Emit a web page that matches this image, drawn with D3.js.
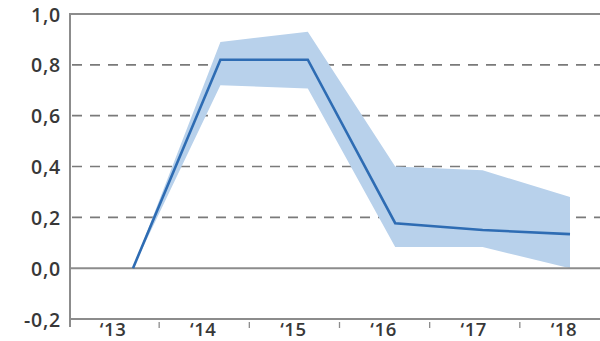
<!DOCTYPE html>
<html>
<head>
<meta charset="utf-8">
<script src="https://cdn.jsdelivr.net/npm/d3@7/dist/d3.min.js"></script>
<style>
  html, body { margin: 0; padding: 0; background: #fff; }
  svg { display: block; }
  text { font-family: "Open Sans", "Noto Sans", sans-serif; fill: #383838; font-weight: 600; }
</style>
</head>
<body>
<svg id="chart" width="600" height="341"></svg>
<script>
// Years on the horizontal axis
const years = ["13", "14", "15", "16", "17", "18"];
// Central estimate
const central = [0.0, 0.82, 0.82, 0.177, 0.15, 0.134];
// Uncertainty range
const upper = [0.0, 0.89, 0.93, 0.40, 0.385, 0.28];
const lower = [0.0, 0.72, 0.707, 0.083, 0.083, 0.0];
// Vertical ticks
const yTicks = [-0.2, 0.0, 0.2, 0.4, 0.6, 0.8, 1.0];
const gridTicks = [0.2, 0.4, 0.6, 0.8];

(function draw() {
  const svg = d3.select("#chart");
  const W = 600;
  const plotLeft = 70, plotTop = 14, plotBottom = 319;

  const y = d3.scaleLinear().domain([-0.2, 1.0]).range([plotBottom, plotTop]);
  // Axis bands for the year labels
  const xBand = d3.scaleBand().domain(years).range([69, 610]).paddingInner(0).paddingOuter(0);
  // Observation positions within the years
  const xPt = d3.scalePoint().domain(years).range([133, 570]);

  const fmt = v => d3.format(".1f")(v).replace(".", ",").replace("\u2212", "-");

  // Dashed grid lines
  svg.append("g").selectAll("line").data(gridTicks).join("line")
    .attr("x1", plotLeft + 2).attr("x2", W)
    .attr("y1", d => y(d)).attr("y2", d => y(d))
    .attr("stroke", "#7a7a7a").attr("stroke-width", 1.6)
    .attr("stroke-dasharray", "10,8");

  // Uncertainty band
  const area = d3.area()
    .x((d, i) => xPt(years[i]))
    .y0((d, i) => y(lower[i]))
    .y1((d, i) => y(upper[i]));
  svg.append("path").datum(years).attr("d", area)
    .attr("fill", "#b8d1eb");

  // Frame: top border, zero line, bottom axis, left axis
  [1.0, 0.0, -0.2].forEach(v => {
    svg.append("line").attr("x1", plotLeft).attr("x2", W).attr("y1", y(v)).attr("y2", y(v))
      .attr("stroke", "#8c8c8c").attr("stroke-width", 2);
  });
  svg.append("line").attr("x1", plotLeft).attr("x2", plotLeft)
    .attr("y1", y(1.0) - 1).attr("y2", plotBottom + 8)
    .attr("stroke", "#8c8c8c").attr("stroke-width", 2);

  // Central line
  const line = d3.line()
    .x((d, i) => xPt(years[i]))
    .y(d => y(d));
  svg.append("path").datum(central).attr("d", line)
    .attr("fill", "none").attr("stroke", "#2e6cb3").attr("stroke-width", 2.6)
    .attr("stroke-linejoin", "miter");

  // Year separators below the axis
  svg.append("g").selectAll("line").data(years.slice(1)).join("line")
    .attr("x1", d => xBand(d)).attr("x2", d => xBand(d))
    .attr("y1", plotBottom + 3).attr("y2", plotBottom + 9)
    .attr("stroke", "#8c8c8c").attr("stroke-width", 1.3);

  // Year labels
  svg.append("g").selectAll("text").data(years).join("text")
    .attr("x", d => xBand(d) + xBand.bandwidth() / 2 - 1)
    .attr("y", 336)
    .attr("text-anchor", "middle")
    .attr("font-size", 18.5)
    .attr("letter-spacing", 0.6)
    .text(d => "\u2018" + d);

  // Value labels
  svg.append("g").selectAll("text").data(yTicks).join("text")
    .attr("x", 61)
    .attr("y", d => y(d) + 7.5)
    .attr("text-anchor", "end")
    .attr("font-size", 19.5)
    .attr("letter-spacing", 0.8)
    .text(d => fmt(d));
})();
</script>
</body>
</html>
